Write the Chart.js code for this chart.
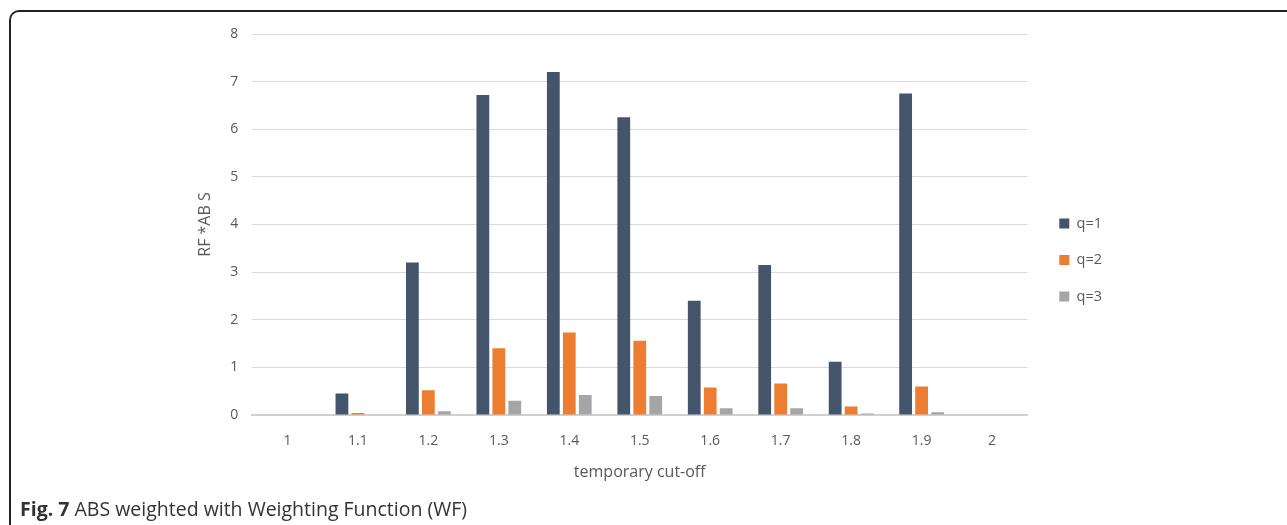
<!DOCTYPE html>
<html>
<head>
<meta charset="utf-8">
<script src="https://cdn.jsdelivr.net/npm/chart.js@4"></script>
<style>
  body { margin: 0; background: #fff; width: 1287px; height: 525px; overflow: hidden; position: relative; font-family: "Open Sans", sans-serif; }
  #frame { position: absolute; left: 9px; top: 10px; width: 1300px; height: 540px; border-left: 2px solid #222; border-top: 2px solid #222; border-top-left-radius: 10px; }
  #wrap { position: absolute; left: 192px; top: 10px; width: 940px; height: 490px; }
  #caption { position: absolute; left: 20px; top: 495px; font-size: 19.5px; color: #333; }
</style>
</head>
<body>
<div id="frame"></div>
<div id="wrap"><canvas id="chart"></canvas></div>
<div id="caption"><b>Fig. 7</b> ABS weighted with Weighting Function (WF)</div>
<script>
const cutoffs = ["1", "1.1", "1.2", "1.3", "1.4", "1.5", "1.6", "1.7", "1.8", "1.9", "2"];
const q1 = [0, 0.45, 3.2, 6.72, 7.2, 6.25, 2.4, 3.15, 1.12, 6.75, 0];
const q2 = [0, 0.04, 0.52, 1.4, 1.73, 1.56, 0.58, 0.66, 0.18, 0.6, 0];
const q3 = [0, 0.01, 0.08, 0.3, 0.42, 0.4, 0.14, 0.14, 0.03, 0.06, 0];

const textColor = "#595959";

document.addEventListener("DOMContentLoaded", function() {
  const ctx = document.getElementById("chart").getContext("2d");
  new Chart(ctx, {
    type: "bar",
    data: {
      labels: cutoffs,
      datasets: [
        { label: "q=1", data: q1, backgroundColor: "#44546A" },
        { label: "q=2", data: q2, backgroundColor: "#ED7D31" },
        { label: "q=3", data: q3, backgroundColor: "#A5A5A5" }
      ]
    },
    options: {
      responsive: true,
      maintainAspectRatio: false,
      animation: false,
      categoryPercentage: 0.68,
      barPercentage: 0.8,
      layout: { padding: { top: 24, right: 20, bottom: 14 } },
      plugins: {
        legend: {
          position: "right",
          labels: {
            boxWidth: 10,
            boxHeight: 10,
            padding: 22,
            color: textColor,
            font: { family: "Open Sans", size: 14.5 }
          }
        },
        tooltip: { enabled: false }
      },
      scales: {
        x: {
          grid: { display: false },
          border: { color: "#d0d0d0", width: 2 },
          ticks: { color: textColor, font: { family: "Open Sans", size: 14 }, padding: 10 },
          title: { display: true, text: "temporary cut-off", color: textColor, font: { family: "Open Sans", size: 16 }, padding: { top: 3 } }
        },
        y: {
          min: 0,
          max: 8,
          grid: { color: "#d9d9d9", drawTicks: false },
          border: { display: false },
          ticks: { stepSize: 1, color: textColor, font: { family: "Open Sans", size: 14 }, padding: 14 },
          title: { display: true, text: "RF *AB S", color: textColor, font: { family: "Open Sans", size: 16 }, padding: { bottom: 1 } }
        },
        // empty axis on the right, only keeps a gap before the legend
        gap: {
          position: "right",
          grid: { display: false },
          border: { display: false },
          ticks: { display: false },
          afterFit: (scale) => { scale.width = 10; }
        }
      }
    }
  });
});
</script>
</body>
</html>
